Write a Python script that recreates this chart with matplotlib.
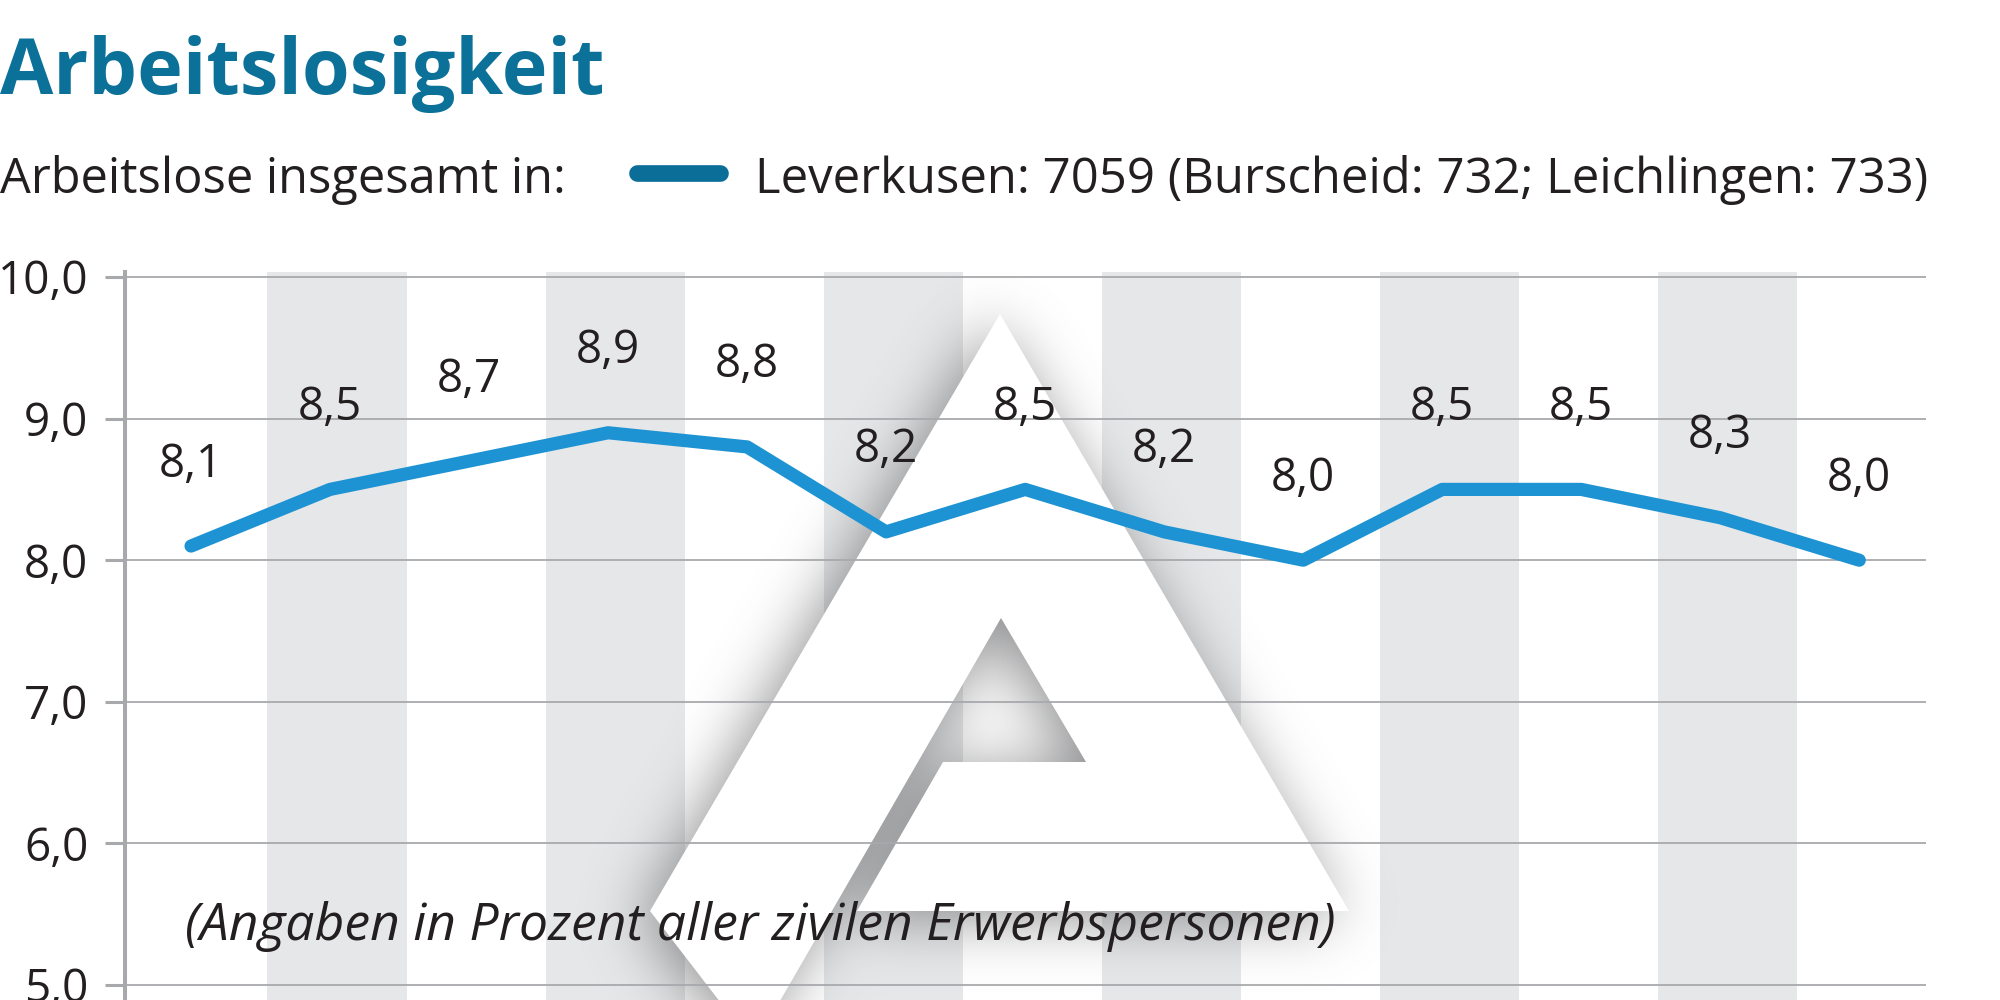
import matplotlib
matplotlib.use("Agg")
import matplotlib.pyplot as plt
import matplotlib.transforms as mtransforms
from matplotlib.patches import Polygon
from matplotlib.lines import Line2D
from matplotlib.path import Path
import numpy as np

# ---------------- data ----------------
values = [8.1, 8.5, 8.7, 8.9, 8.8, 8.2, 8.5, 8.2, 8.0, 8.5, 8.5, 8.3, 8.0]
value_labels = [f"{v:.1f}".replace(".", ",") for v in values]
y_ticks = [5, 6, 7, 8, 9, 10]
y_tick_labels = ["5,0", "6,0", "7,0", "8,0", "9,0", "10,0"]
title = "Arbeitslosigkeit"
subtitle = "Arbeitslose insgesamt in:"
legend_label = "Leverkusen: 7059 (Burscheid: 732; Leichlingen: 733)"
note = "(Angaben in Prozent aller zivilen Erwerbspersonen)"

# ---------------- style ----------------
plt.rcParams["font.family"] = ["Open Sans", "DejaVu Sans"]
TEXT = "#231f20"
TITLE_C = "#0b7199"
LINE_C = "#1d93d3"
LEG_C = "#0b6e99"
GRID_C = "#a7a9ac"
STRIPE_C = "#e6e7e8"

W, H = 2000, 1000
fig = plt.figure(figsize=(20, 10), dpi=100)
fig.patch.set_facecolor("white")


def fx(px):
    return px / W


def fy(py):
    return 1 - py / H


px_per_unit = 141.6
ax_top_px = 272
ax = fig.add_axes([fx(125), 0, fx(1926) - fx(125), fy(ax_top_px)])
x = np.arange(len(values))
ax.set_facecolor("white")

# alternating stripes
for i in range(1, len(values), 2):
    ax.axvspan(i - 0.45, i + 0.55, color=STRIPE_C, lw=0, zorder=0.1)

# ---------- watermark logo (decoration), figure-pixel coordinates ----------
pix = mtransforms.Affine2D().scale(1 / W, -1 / H).translate(0, 1) + fig.transFigure
logo_pts = [(1000, 314), (1349, 911), (857, 911), (943, 762), (1086, 762),
            (1001, 618), (754, 1046), (650, 911)]

# soft shadow: blurred mask of the logo
step = 2
gx = np.arange(-200, 2200, step)
gy = np.arange(-200, 1300, step)
GX, GY = np.meshgrid(gx, gy)
shadow_off = (-10, 6)
mask_path = Path([(px + shadow_off[0], py + shadow_off[1]) for px, py in logo_pts])
mask = mask_path.contains_points(np.column_stack([GX.ravel(), GY.ravel()])).reshape(GX.shape).astype(float)
sigma = 30 / step
ky = np.fft.fftfreq(mask.shape[0])
kx = np.fft.rfftfreq(mask.shape[1])
G = np.exp(-2 * (np.pi * sigma) ** 2 * (ky[:, None] ** 2 + kx[None, :] ** 2))
blur = np.fft.irfft2(np.fft.rfft2(mask) * G, s=mask.shape)
alpha = np.clip(0.66 * blur, 0, 1)
rgba = np.zeros(mask.shape + (4,))
rgba[..., 0] = 0x57 / 255
rgba[..., 1] = 0x58 / 255
rgba[..., 2] = 0x5a / 255
rgba[..., 3] = alpha
ax.imshow(rgba, extent=(gx[0], gx[-1] + step, gy[-1] + step, gy[0]),
          transform=pix, aspect="auto", interpolation="bilinear", zorder=0.2)
ax.add_patch(Polygon(logo_pts, closed=True, facecolor="white", edgecolor="none",
                     transform=pix, zorder=0.3))

# limits (after imshow)
ax.set_xlim(-0.475, 12.48)
ytop = 10 + (277 - ax_top_px) / px_per_unit
ax.set_ylim(ytop - (H - ax_top_px) / px_per_unit, ytop)

# grid / axes
ax.set_axisbelow(True)
ax.yaxis.grid(True, color=GRID_C, lw=1.3)
ax.xaxis.grid(False)
ax.set_yticks(y_ticks)
ax.set_yticklabels(y_tick_labels)
ax.tick_params(axis="y", length=14.4, width=2.2, color=GRID_C, pad=12,
               labelsize=33, labelcolor=TEXT)
ax.tick_params(axis="x", bottom=False, labelbottom=False)
for s in ["top", "right", "bottom"]:
    ax.spines[s].set_visible(False)
ax.spines["left"].set_color(GRID_C)
ax.spines["left"].set_linewidth(2.9)

# data line
ax.plot(x, values, color=LINE_C, lw=9.5, solid_capstyle="round",
        solid_joinstyle="round", zorder=3)
for xi, v, lab in zip(x, values, value_labels):
    ax.annotate(lab, (xi, v), xytext=(0, 50), textcoords="offset points",
                ha="center", va="baseline", fontsize=33, color=TEXT, zorder=4)

# texts
t_title = fig.text(0.0, fy(94), title, fontsize=66, fontweight="bold",
                   color=TITLE_C, ha="left", va="baseline")
t_sub = fig.text(0.0, fy(193), subtitle, fontsize=42, color=TEXT,
                 ha="left", va="baseline")
t_leg = fig.text(fx(755), fy(193), legend_label, fontsize=42, color=TEXT,
                 ha="left", va="baseline")
fig.add_artist(Line2D([fx(637), fx(720)], [fy(173), fy(173)], color=LEG_C,
                      lw=12, solid_capstyle="round", transform=fig.transFigure))
t_note = fig.text(fx(185), fy(940), note, fontsize=38, style="italic",
                  color=TEXT, ha="left", va="baseline", zorder=5)

r = fig.canvas.get_renderer()


def fit(t, target_w, max_size):
    bb = t.get_window_extent(renderer=r)
    s = t.get_fontsize() * target_w / bb.width
    t.set_fontsize(min(s, max_size))


fit(t_title, 605, 66)
fit(t_sub, 566, 42)
fit(t_leg, 1174, 42)
fit(t_note, 1152, 38)

fig.savefig("out.png", dpi=100, facecolor="white")
